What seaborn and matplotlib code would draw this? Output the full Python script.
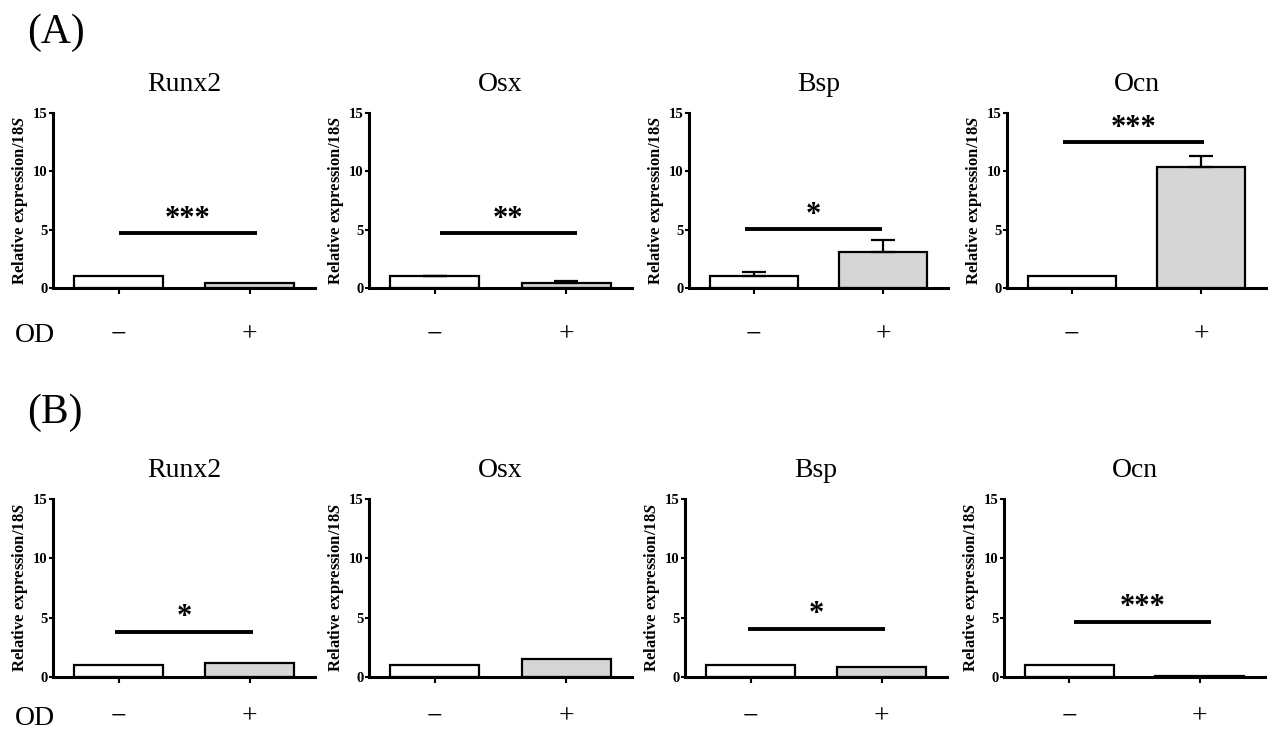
import numpy as np
import pandas as pd
import matplotlib
matplotlib.use('Agg')
import matplotlib.pyplot as plt
import seaborn as sns

# data
genes = ['Runx2', 'Osx', 'Bsp', 'Ocn']
od_levels = ['−', '+']

a_minus = [1.0, 1.0, 1.0, 1.0]
a_plus = [0.45, 0.45, 3.1, 10.4]
a_err_minus = [0.0, 0.05, 0.35, 0.0]
a_err_plus = [0.0, 0.12, 1.0, 0.9]
a_sig = ['***', '**', '*', '***']
a_sig_y = [4.7, 4.7, 5.05, 12.5]
a_sig_x0 = [0.0, 0.04, -0.07, -0.07]
a_sig_x1 = [1.06, 1.08, 0.99, 1.02]

b_minus = [1.0, 1.0, 1.0, 1.0]
b_plus = [1.2, 1.55, 0.85, 0.08]
b_err_minus = [0.0, 0.0, 0.0, 0.0]
b_err_plus = [0.0, 0.0, 0.0, 0.0]
b_sig = ['*', '', '*', '***']
b_sig_y = [3.8, np.nan, 4.05, 4.65]
b_sig_x0 = [-0.03, np.nan, -0.02, 0.04]
b_sig_x1 = [1.03, np.nan, 1.03, 1.09]

yticks = [0, 5, 10, 15]

W, H = 1268, 732
SERIF = ['Liberation Serif', 'DejaVu Serif']

sns.set_style('ticks')
plt.rcParams['font.family'] = SERIF
plt.rcParams['mathtext.fontset'] = 'custom'
plt.rcParams['mathtext.it'] = 'Liberation Serif:italic:bold'
plt.rcParams['mathtext.rm'] = 'Liberation Serif:bold'
for key in ['text.color', 'axes.labelcolor', 'xtick.color', 'ytick.color', 'axes.edgecolor']:
    plt.rcParams[key] = 'black'

fig = plt.figure(figsize=(W / 100, H / 100), dpi=100)

# pixel boxes (left, right, y of 0, y of 15)
rows = [
    dict(lefts=[53, 369, 689, 1007], rights=[315, 632, 948, 1266], y0=288, y15=113,
         minus=a_minus, plus=a_plus, em=a_err_minus, ep=a_err_plus,
         sig=a_sig, sy=a_sig_y, sx0=a_sig_x0, sx1=a_sig_x1, tag='(A)', tag_y=43,
         od_y=348, tick_pad=21),
    dict(lefts=[53, 369, 685, 1004], rights=[315, 632, 947, 1265], y0=677, y15=499,
         minus=b_minus, plus=b_plus, em=b_err_minus, ep=b_err_plus,
         sig=b_sig, sy=b_sig_y, sx0=b_sig_x0, sx1=b_sig_x1, tag='(B)', tag_y=423,
         od_y=731, tick_pad=16),
]

for r in rows:
    for i, gene in enumerate(genes):
        l, rt = r['lefts'][i], r['rights'][i]
        ax = fig.add_axes([l / W, 1 - r['y0'] / H, (rt - l) / W, (r['y0'] - r['y15']) / H])
        df = pd.DataFrame({'OD': od_levels, 'expr': [r['minus'][i], r['plus'][i]]})
        sns.barplot(data=df, x='OD', y='expr', hue='OD', palette=['white', '#d6d6d6'],
                    order=od_levels, hue_order=od_levels, width=0.68, edgecolor='black',
                    linewidth=1.6, errorbar=None, legend=False, ax=ax)
        errs = [r['em'][i], r['ep'][i]]
        for k in range(2):
            if errs[k] > 0:
                ax.errorbar(k, df['expr'][k], yerr=[[0], [errs[k]]], fmt='none', ecolor='black',
                            elinewidth=1.6, capsize=8.5, capthick=1.6, zorder=1)
        if r['sig'][i]:
            ax.plot([r['sx0'][i], r['sx1'][i]], [r['sy'][i], r['sy'][i]], color='black', lw=2.8,
                    solid_capstyle='butt')
            ax.text((r['sx0'][i] + r['sx1'][i]) / 2, r['sy'][i] + 0.55, r['sig'][i], ha='center',
                    va='baseline', fontsize=22, fontweight='bold')
        ax.set_xlim(-0.5, 1.5)
        ax.set_ylim(0, 15)
        ax.set_yticks(yticks)
        ax.set_yticklabels([str(t) for t in yticks], fontsize=10.5, fontweight='bold')
        ax.set_xticks([0, 1])
        ax.set_xticklabels(od_levels, fontsize=20)
        ax.tick_params(axis='x', length=4, width=1.5, pad=r['tick_pad'])
        ax.tick_params(axis='y', length=3, width=1.5, pad=1)
        ax.set_xlabel('')
        ax.set_ylabel('Relative expression/$\\mathit{18S}$', fontsize=12, fontweight='bold', labelpad=2)
        ax.set_title(gene, fontsize=20, pad=16)
        sns.despine(ax=ax)
        for s in ['left', 'bottom']:
            ax.spines[s].set_linewidth(2.2)
    fig.text(27 / W, 1 - r['tag_y'] / H, r['tag'], fontsize=30, va='baseline')
    fig.text(35 / W, 1 - r['od_y'] / H, 'OD', fontsize=20, ha='center', va='bottom')

fig.savefig('out.png', dpi=100, facecolor='white')
